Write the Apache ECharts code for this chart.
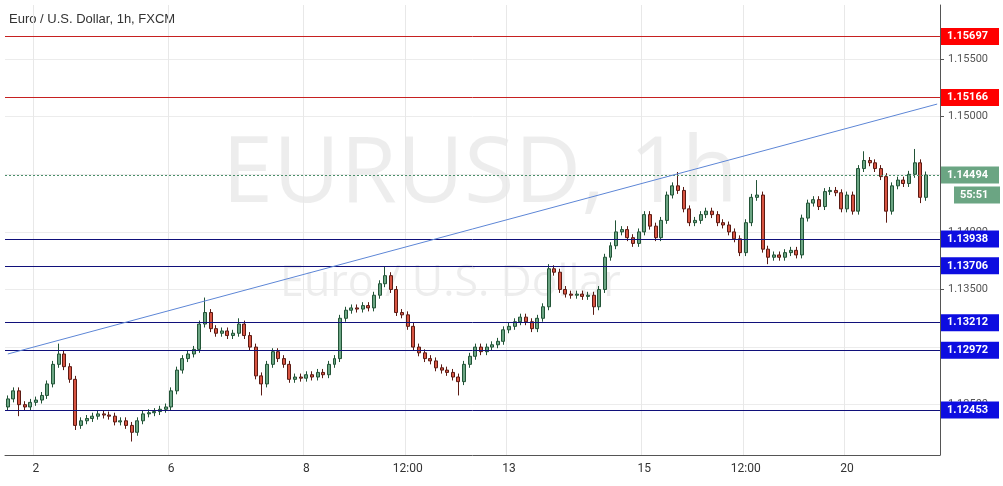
<!DOCTYPE html>
<html>
<head>
<meta charset="UTF-8">
<title>EURUSD 1h</title>
<style>html,body{margin:0;padding:0;background:#fff}#main{width:1003px;height:486px}</style>
</head>
<body>
<div id="main"></div>
<script src="https://cdn.jsdelivr.net/npm/echarts@6/dist/echarts.min.js"></script>
<script>
// closes of the 2h candles
var closes = [
  1.1255, 1.1262, 1.1250, 1.1248, 1.1252, 1.1254, 1.1258, 1.1268, 1.1285, 1.1294,
  1.1283, 1.1272, 1.1232, 1.1236, 1.1238, 1.1240, 1.1242, 1.1241, 1.1240, 1.1235,
  1.1236, 1.1232, 1.1226, 1.1236, 1.1242, 1.1243, 1.1244, 1.1246, 1.1248, 1.1262,
  1.1280, 1.1290, 1.1294, 1.1298, 1.1320, 1.1330, 1.1316, 1.1312, 1.1314, 1.1310,
  1.1312, 1.1320, 1.1310, 1.1300, 1.1275, 1.1268, 1.1285, 1.1296, 1.1290, 1.1285,
  1.1272, 1.1274, 1.1273, 1.1276, 1.1274, 1.1278, 1.1276, 1.1285, 1.1290, 1.1325,
  1.1332, 1.1334, 1.1333, 1.1336, 1.1334, 1.1345, 1.1355, 1.1362, 1.1350, 1.1330,
  1.1328, 1.1318, 1.1300, 1.1295, 1.1290, 1.1288, 1.1282, 1.1280, 1.1278, 1.1274,
  1.1270, 1.1285, 1.1292, 1.1300, 1.1296, 1.1300, 1.1302, 1.1305, 1.1315, 1.1318,
  1.1322, 1.1326, 1.1322, 1.1316, 1.1325, 1.1335, 1.1368, 1.1365, 1.1350, 1.1346,
  1.1345, 1.1346, 1.1344, 1.1345, 1.1335, 1.1350, 1.1378, 1.1388, 1.1400, 1.1402,
  1.1395, 1.1390, 1.1400, 1.1415, 1.1405, 1.1395, 1.1410, 1.1432, 1.1440, 1.1436,
  1.1420, 1.1408, 1.1410, 1.1415, 1.1418, 1.1415, 1.1408, 1.1406, 1.1400, 1.1394,
  1.1382, 1.1408, 1.1430, 1.1432, 1.1385, 1.1378, 1.1380, 1.1378, 1.1382, 1.1384,
  1.1380, 1.1412, 1.1425, 1.1428, 1.1422, 1.1435, 1.1436, 1.1434, 1.1420, 1.1432,
  1.1418, 1.1455, 1.1462, 1.1460, 1.1455, 1.1448, 1.1418, 1.1440, 1.1445, 1.1442,
  1.1450, 1.1460, 1.1430, 1.14494
];
var firstOpen = 1.1248;
// notable wick extremes (candle index -> price)
var highs = {9: 1.1303, 35: 1.1343, 41: 1.1325, 67: 1.1370, 96: 1.1372, 108: 1.1410, 119: 1.1452, 133: 1.1445, 152: 1.1470, 161: 1.1472};
var lows = {2: 1.1240, 12: 1.1228, 22: 1.1218, 45: 1.1258, 80: 1.1258, 104: 1.1328, 135: 1.1372, 156: 1.1408, 162: 1.1425};
var wick = 0.0003;
// x tick labels: candle index -> text
var tickLabels = {5: '2', 29: '6', 53: '8', 71: '12:00', 89: '13', 113: '15', 131: '12:00', 149: '20'};
var blueLevels = [1.13938, 1.13706, 1.13212, 1.12972, 1.12453];
var redLevels = [1.15697, 1.15166];
var lastPrice = 1.14494;
var countdown = '55:51';
var trendStart = [0, 1.1294];
var trendEnd = [165, 1.1511];
var yTicks = [1.125, 1.130, 1.135, 1.140, 1.145, 1.150, 1.155];

var cats = [];
var ohlc = [];
for (var i = 0; i < closes.length; i++) {
  var o = i === 0 ? firstOpen : closes[i - 1];
  var c = closes[i];
  var h = highs[i] !== undefined ? highs[i] : Math.max(o, c) + wick;
  var l = lows[i] !== undefined ? lows[i] : Math.min(o, c) - wick;
  ohlc.push([o, c, l, h]);
  cats.push(String(i));
}
cats.push('164', '165');
ohlc.push('-', '-');

var levelLines = [];
redLevels.forEach(function (v) {
  levelLines.push({yAxis: v, lineStyle: {color: '#c62020', width: 1, type: 'solid'},
    label: {backgroundColor: '#f00', color: '#fff'}});
});
blueLevels.forEach(function (v) {
  levelLines.push({yAxis: v, lineStyle: {color: '#10107a', width: 1, type: 'solid'},
    label: {backgroundColor: '#0d0de0', color: '#fff'}});
});
levelLines.push({yAxis: lastPrice, lineStyle: {color: '#4a8f6a', width: 1, type: [2, 2]},
  label: {backgroundColor: '#6ba583', color: '#fff'}});
levelLines.push({yAxis: lastPrice, lineStyle: {color: 'rgba(0,0,0,0)', width: 0},
  label: {backgroundColor: '#6ba583', color: '#fff', width: 34, align: 'left', offset: [13, 20],
    formatter: function () { return countdown; }}});
levelLines.push([
  {coord: trendStart, symbol: 'none', lineStyle: {color: '#5d86d6', width: 1, type: 'solid'}, label: {show: false}},
  {coord: trendEnd, symbol: 'none'}
]);

var myChart = echarts.init(document.getElementById('main'));
myChart.setOption({
  animation: false,
  textStyle: {fontFamily: 'Roboto, Arial, sans-serif'},
  graphic: [
    {type: 'text', left: 222, top: 130, z: 0, silent: true,
     style: {text: 'EURUSD, 1h', fontSize: 92, fill: 'rgba(0,0,0,0.07)', fontFamily: 'Open Sans'}},
    {type: 'text', left: 280, top: 262, z: 0, silent: true,
     style: {text: 'Euro / U.S. Dollar', fontSize: 43, fill: 'rgba(0,0,0,0.07)', fontFamily: 'Open Sans'}},
    {type: 'text', left: 9, top: 13, style: {text: 'Euro / U.S. Dollar, 1h, FXCM', fontSize: 13, fill: '#333'}}
  ],
  grid: {left: 5, right: 63, top: 5, bottom: 31},
  xAxis: {
    type: 'category', data: cats, boundaryGap: true,
    axisLine: {lineStyle: {color: '#555'}},
    axisTick: {show: false},
    axisLabel: {interval: 0, color: '#333', fontSize: 12, margin: 8,
      formatter: function (v, idx) { return tickLabels[idx] || ''; }},
    splitLine: {show: true, interval: function (idx) { return tickLabels[idx] !== undefined; },
      lineStyle: {color: '#e8e8e8'}}
  },
  yAxis: {
    type: 'value', position: 'right', scale: true, min: 1.12063, max: 1.1597,
    axisLine: {show: true, lineStyle: {color: '#555'}},
    axisTick: {show: true, customValues: yTicks, length: 4, lineStyle: {color: '#555'}},
    axisLabel: {customValues: yTicks, color: '#555', fontSize: 11, margin: 8,
      formatter: function (v) { return v.toFixed(5); }},
    splitLine: {show: true, lineStyle: {color: '#ececec'}}
  },
  series: [{
    type: 'candlestick', data: ohlc, barWidth: '62%',
    itemStyle: {color: '#6ba583', color0: '#d75442', borderColor: '#225437', borderColor0: '#5b1a13', borderWidth: 1},
    markLine: {silent: true, symbol: 'none', animation: false, precision: 5,
      label: {position: 'end', distance: 1, fontSize: 11, fontWeight: 'bold', padding: [3, 6], width: 46,
        formatter: function (p) { return p.value.toFixed(5); }},
      data: levelLines}
  }]
});
</script>
</body>
</html>
